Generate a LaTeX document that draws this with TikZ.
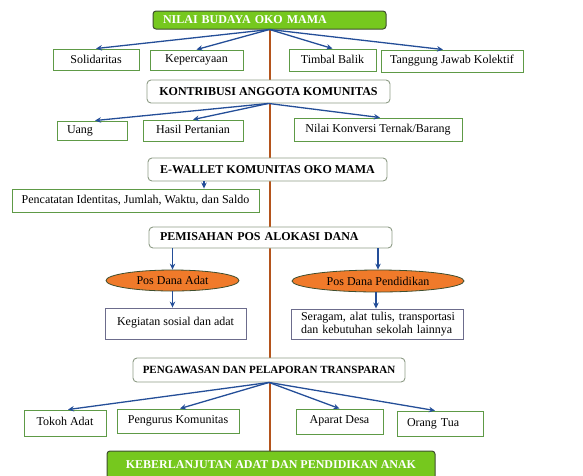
\documentclass[tikz,border=0pt]{standalone}
\usepackage{fontspec}
\setmainfont{Liberation Serif}
\usetikzlibrary{arrows.meta,shapes.geometric,calc,backgrounds}
\definecolor{gfill}{HTML}{76C81E}
\definecolor{gdark}{HTML}{3E4E2E}
\definecolor{gline}{HTML}{5E9A46}
\definecolor{rline}{HTML}{8E9C86}
\definecolor{pline}{HTML}{6C6C8C}
\definecolor{abl}{HTML}{244E98}
\definecolor{brn}{HTML}{B4541C}
\definecolor{org}{HTML}{F07A2A}
\tikzset{
  hdr/.style={draw=gdark,line width=1pt,fill=gfill,rounded corners=3pt,inner sep=0pt,
    font=\fontsize{12}{13}\selectfont\bfseries,text=white},
  rbox/.style={draw=rline,line width=0.9pt,fill=white,rounded corners=4pt,inner sep=0pt,
    font=\fontsize{12}{13}\selectfont\bfseries},
  gbox/.style={draw=gline,line width=0.9pt,fill=white,inner sep=0pt,
    font=\fontsize{12}{13}\selectfont},
  pbox/.style={draw=pline,line width=0.9pt,fill=white,inner sep=0pt,
    font=\fontsize{12}{13}\selectfont},
  oval/.style={ellipse,draw=gdark,line width=0.8pt,fill=org,inner sep=0pt,
    font=\fontsize{12}{13}\selectfont},
  lft/.style={text width=#1,align=left},
  arr/.style={draw=abl,line width=1.3pt,-{Stealth[length=6pt,width=5.5pt]}},
  trunk/.style={draw=brn,line width=2pt}
}
\begin{document}
\begin{tikzpicture}[x=1pt,y=-1pt]
\useasboundingbox (0,0) rectangle (583,475);
\path
 (269.5,20) node[hdr,minimum width=233pt,minimum height=18pt,lft=233pt] (top) {\hspace*{10pt}NILAI BUDAYA OKO MAMA}
 (96,59.5) node[gbox,minimum width=86pt,minimum height=21pt] (sol) {\raisebox{1pt}{Solidaritas}}
 (196.5,60) node[gbox,minimum width=93pt,minimum height=20pt] (kep) {\raisebox{1pt}{Kepercayaan}}
 (332.5,60) node[gbox,minimum width=87pt,minimum height=22pt] (tim) {\raisebox{1pt}{Timbal Balik}}
 (452,61) node[gbox,minimum width=142pt,minimum height=22pt] (tan) {Tanggung Jawab Kolektif}
 (268.5,91.5) node[rbox,minimum width=243pt,minimum height=23pt] (kon) {KONTRIBUSI ANGGOTA KOMUNITAS}
 (92,130.5) node[gbox,minimum width=70pt,minimum height=19pt,lft=70pt] (uang) {\hspace*{10pt}Uang}
 (193,130.5) node[gbox,minimum width=100pt,minimum height=21pt] (hasil) {\raisebox{2pt}{Hasil Pertanian}}
 (378,129.5) node[gbox,minimum width=168pt,minimum height=23pt] (nilai) {\raisebox{2pt}{Nilai Konversi Ternak/Barang}}
 (267.5,169.5) node[rbox,minimum width=239pt,minimum height=23pt] (ew) {E-WALLET KOMUNITAS OKO MAMA}
 (135.5,200.5) node[gbox,minimum width=247pt,minimum height=23pt] (pen) {Pencatatan Identitas, Jumlah, Waktu, dan Saldo}
 (270.5,237.5) node[rbox,minimum width=243pt,minimum height=21pt,lft=243pt] (pem) {\hspace*{11pt}\raisebox{1pt}{PEMISAHAN POS ALOKASI DANA}}
 (172.5,280.5) node[oval,minimum width=133pt,minimum height=21pt] (adat) {Pos Dana Adat}
 (378,281) node[oval,minimum width=172pt,minimum height=22pt] (pend) {Pos Dana Pendidikan}
 (175.5,323.5) node[pbox,minimum width=141pt,minimum height=31pt] (keg) {\raisebox{4pt}{Kegiatan sosial dan adat}}
 (377,324) node[pbox,minimum width=172pt,minimum height=30pt,lft=172pt] (ser) {\hspace*{10pt}Seragam, alat tulis, transportasi\\\hspace*{10pt}dan kebutuhan sekolah lainnya}
 (269,370) node[rbox,minimum width=272pt,minimum height=24pt,font=\fontsize{11}{12}\selectfont\bfseries] (peng) {\raisebox{1pt}{PENGAWASAN DAN PELAPORAN TRANSPARAN}}
 (65,423) node[gbox,minimum width=82pt,minimum height=26pt] (tok) {\raisebox{3pt}{Tokoh Adat}}
 (178,421) node[gbox,minimum width=122pt,minimum height=24pt] (pgr) {\raisebox{2pt}{Pengurus Komunitas}}
 (339.5,421.5) node[gbox,minimum width=87pt,minimum height=25pt] (apa) {\raisebox{3pt}{Aparat Desa}}
 (440,423.5) node[gbox,minimum width=86pt,minimum height=25pt,lft=86pt] (ora) {\hspace*{10pt}\raisebox{2pt}{Orang Tua}}
 (271,468) node[hdr,minimum width=328pt,minimum height=34pt] (bot) {\raisebox{6pt}{KEBERLANJUTAN ADAT DAN PENDIDIKAN ANAK}};
% trunk behind boxes
\begin{scope}[on background layer]
\draw[trunk] (top.south) -- (top.south |- bot.north);
\end{scope}
% arrows
\draw[arr] (top.south) -- (sol.north);
\draw[arr] (top.south) -- (kep.north);
\draw[arr] (top.south) -- (tim.north);
\draw[arr] (top.south) -- ([xshift=-9pt]tan.north);
\draw[arr] (kon.south) -- ([xshift=3pt]uang.north);
\draw[arr] (kon.south) -- (hasil.north);
\draw[arr] (kon.south) -- ([xshift=2pt]nilai.north);
\draw[arr] ([xshift=-63.5pt]ew.south) -- ([xshift=-63.5pt]ew.south |- pen.north);
\draw[arr] (adat.north |- pem.south) -- (adat.north);
\draw[arr] (pend.north |- pem.south) -- (pend.north);
\draw[arr] (adat.south) -- (adat.south |- keg.north);
\draw[arr] ([xshift=-2pt]pend.south) -- ([xshift=-2pt]pend.south |- ser.north);
\draw[arr] (peng.south) -- ([xshift=3pt]tok.north);
\draw[arr] (peng.south) -- ([xshift=2pt]pgr.north);
\draw[arr] (peng.south) -- (apa.north);
\draw[arr] (peng.south) -- ([xshift=-5pt]ora.north);
\end{tikzpicture}
\end{document}
